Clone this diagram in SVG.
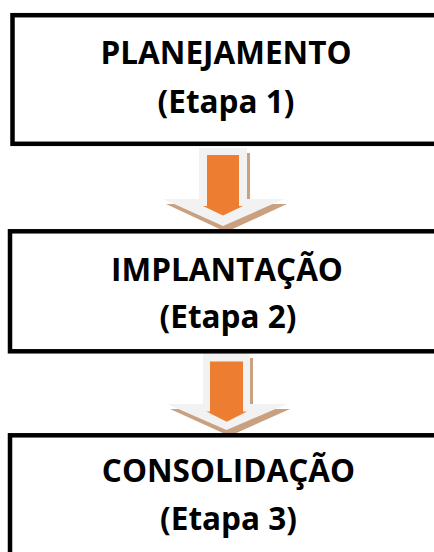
<svg xmlns="http://www.w3.org/2000/svg" width="434" height="552" viewBox="0 0 434 552">
<style>
.box{fill:#fff;stroke:#000;stroke-width:4.5}
.t{font-family:"Open Sans","Liberation Sans",sans-serif;font-weight:bold;font-size:31.5px;fill:#000;text-anchor:middle}
.shadow{fill:#c9a080}
.gray{fill:#f2f2f2}
.orange{fill:#ed7d31}
</style>
<rect width="434" height="552" fill="#fff"/>
<g id="connectors">
  <g id="arrow1">
    <path class="shadow" d="M202 153 H250 V204 H287 L226 232 L166 204 H202 Z"/>
    <path class="gray" d="M199 148 H247 V199 H284 L223 226 L163 199 H199 Z"/>
    <path class="orange" d="M207 155 H239 V206 H243 L223 215.5 L203 206 H207 Z"/>
  </g>
  <g id="arrow2">
    <path class="shadow" d="M206 358 H253 V409 H290 L229.5 436 L170 409 H206 Z"/>
    <path class="gray" d="M203 353 H250 V404 H287 L226.5 430 L167 404 H203 Z"/>
    <path class="orange" d="M210 361.5 H243 V411.5 H247 L226.7 421.7 L206.5 411.5 H210 Z"/>
  </g>
</g>
<g id="node1">
  <rect class="box" x="12.5" y="15.2" width="430" height="128.6"/>
  <text class="t" x="226" y="63.5">PLANEJAMENTO</text>
  <text class="t" x="226" y="112.5">(Etapa 1)</text>
</g>
<g id="node2">
  <rect class="box" x="10" y="231.3" width="430" height="120"/>
  <text class="t" x="227" y="281">IMPLANTAÇÃO</text>
  <text class="t" x="228" y="328">(Etapa 2)</text>
</g>
<g id="node3">
  <rect class="box" x="10" y="435.3" width="430" height="130"/>
  <text class="t" x="228.5" y="482">CONSOLIDAÇÃO</text>
  <text class="t" x="228.5" y="530">(Etapa 3)</text>
</g>
</svg>
